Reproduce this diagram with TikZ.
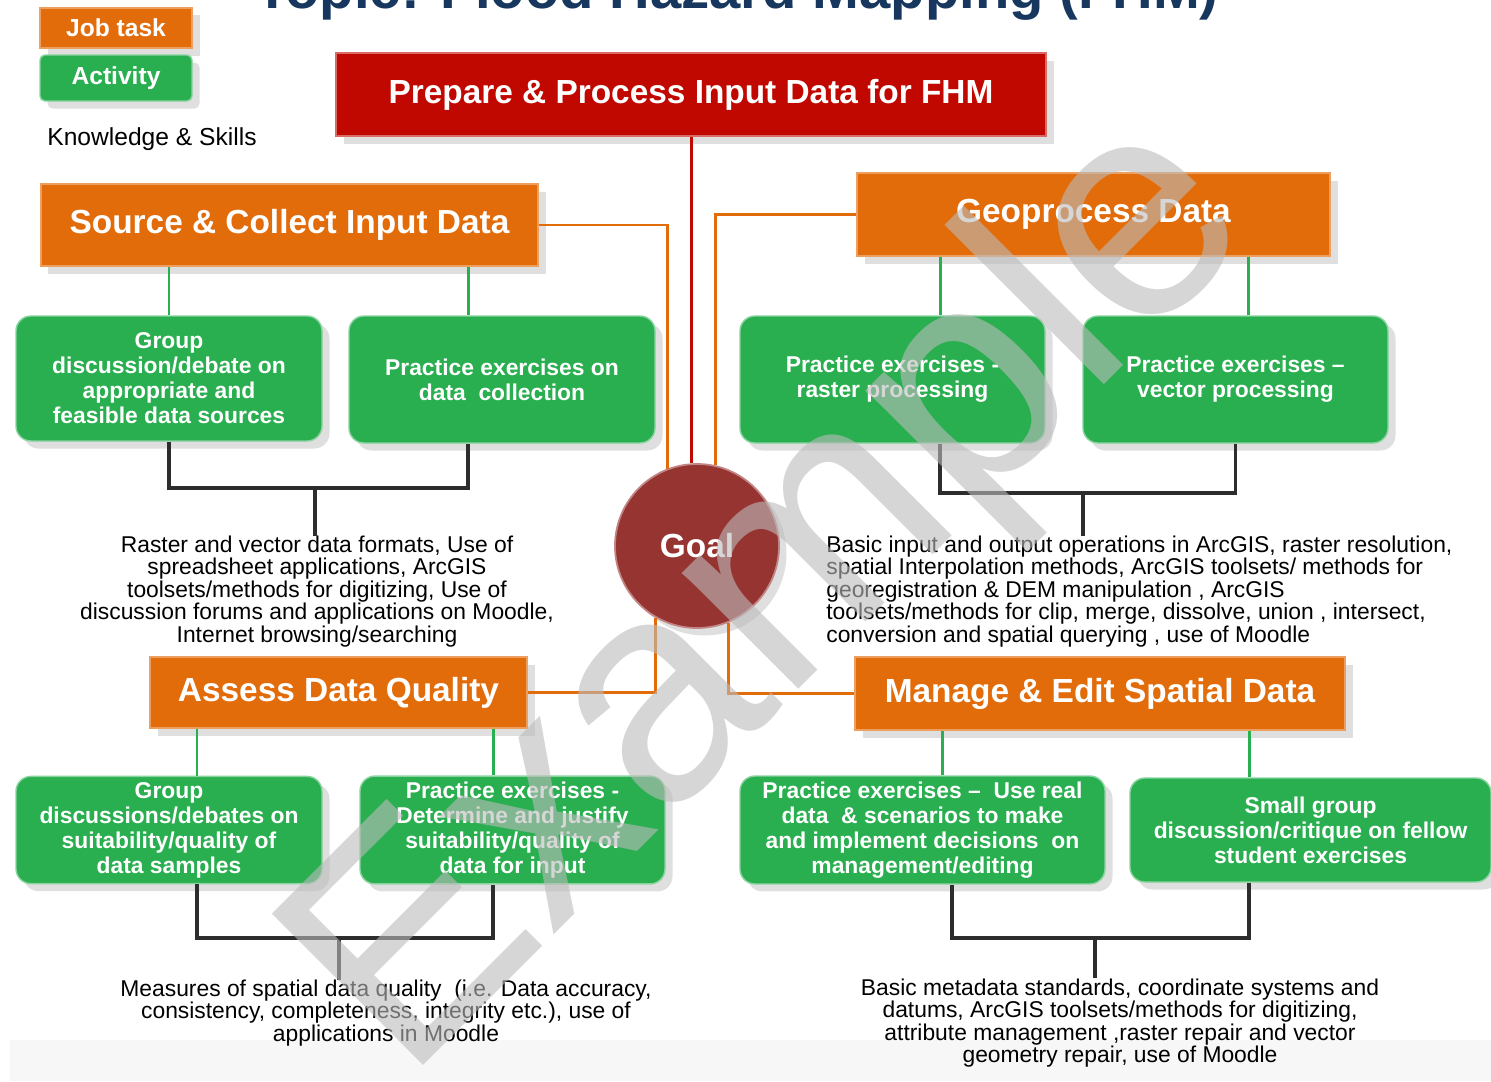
\documentclass[tikz,border=0pt]{standalone}
\usepackage{fontspec}
\setmainfont{Liberation Sans}
\usetikzlibrary{shadows}
\definecolor{taskorange}{RGB}{227,108,10}
\definecolor{actgreen}{RGB}{41,175,80}
\definecolor{prepred}{RGB}{192,8,0}
\definecolor{goalred}{RGB}{150,52,50}
\definecolor{titleblue}{RGB}{23,55,94}
\definecolor{knowgray}{RGB}{45,45,45}
\definecolor{markgray}{RGB}{187,187,187}

\begin{document}
\begin{tikzpicture}[
  jobbox/.style={rectangle, fill=taskorange, draw=taskorange!65!white, line width=0.8pt, text=white, font=\bfseries\fontsize{19}{22}\selectfont, drop shadow={opacity=0.25, shadow xshift=0.15cm, shadow yshift=-0.15cm}},
  actbox/.style={rectangle, rounded corners=0.3cm, fill=actgreen, draw=actgreen!55!white, line width=0.8pt, text=white, align=center, font=\bfseries\fontsize{13}{14.2}\selectfont, drop shadow={opacity=0.25, shadow xshift=0.15cm, shadow yshift=-0.15cm}},
  knowtext/.style={inner sep=0pt, text=black, font=\fontsize{13}{12.8}\selectfont},
  tasklink/.style={draw=taskorange, line width=1.7pt},
  actlink/.style={draw=actgreen, line width=1.7pt},
  knowlink/.style={draw=knowgray, line width=2.2pt}]
  \useasboundingbox (0cm, 0cm) rectangle (29.82cm, -21.62cm);
  \fill[gray!6] (0.2cm, -20.8cm) rectangle (29.82cm, -21.62cm);
  \node [anchor=base, text=titleblue, font=\bfseries\fontsize{32}{36}\selectfont] (title) at (14.74cm, -0.16cm) {Topic: Flood Hazard Mapping (FHM)};
  \node [jobbox, minimum width=3.04cm, minimum height=0.8cm, font=\bfseries\fontsize{14}{16}\selectfont] (job) at (2.32cm, -0.56cm) {Job task};
  \node [actbox, rounded corners=0.1cm, minimum width=3.04cm, minimum height=0.92cm, font=\bfseries\fontsize{14}{16}\selectfont] (act) at (2.32cm, -1.56cm) {Activity};
  \node [font=\fontsize{14}{16}\selectfont] (ks) at (3.04cm, -2.78cm) {Knowledge \& Skills};
  \node [jobbox, fill=prepred, draw=prepred!60!white, minimum width=14.2cm, minimum height=1.66cm] (prep) at (13.82cm, -1.89cm) {Prepare \& Process Input Data for FHM};
  \node [jobbox, minimum width=9.94cm, minimum height=1.64cm] (src) at (5.79cm, -4.5cm) {Source \& Collect Input Data};
  \node [jobbox, minimum width=9.46cm, minimum height=1.66cm] (geo) at (21.87cm, -4.29cm) {Geoprocess Data};
  \node [jobbox, minimum width=7.54cm, minimum height=1.42cm] (qual) at (6.77cm, -13.85cm) {Assess Data Quality};
  \node [jobbox, minimum width=9.8cm, minimum height=1.46cm] (manage) at (22cm, -13.87cm) {Manage \& Edit Spatial Data};
  \node [circle, fill=goalred, draw=goalred!60!white, line width=1pt, minimum size=3.28cm, text=white, font=\bfseries\fontsize{19}{22}\selectfont, drop shadow={opacity=0.25, shadow xshift=0.15cm, shadow yshift=-0.15cm}] (goal) at (13.94cm, -10.92cm) {Goal};
  \node [actbox, minimum width=6.12cm, minimum height=2.5cm] (g1) at (3.38cm, -7.57cm) {Group\\discussion/debate on\\appropriate and\\feasible data sources};
  \node [actbox, minimum width=6.12cm, minimum height=2.54cm] (g2) at (10.04cm, -7.59cm) {Practice exercises on\\data\ \ collection};
  \node [actbox, minimum width=6.1cm, minimum height=2.54cm] (g3) at (17.85cm, -7.59cm) {Practice exercises -\\raster processing};
  \node [actbox, minimum width=6.1cm, minimum height=2.54cm] (g4) at (24.71cm, -7.59cm) {Practice exercises --\\vector processing};
  \node [actbox, minimum width=6.12cm, minimum height=2.08cm] (g5) at (3.38cm, -16.6cm) {Group\\discussions/debates on\\suitability/quality of\\data samples};
  \node [actbox, minimum width=6.1cm, minimum height=2.08cm] (g6) at (10.25cm, -16.6cm) {Practice exercises -\\Determine and justify\\suitability/quality of\\data for input};
  \node [actbox, minimum width=7.3cm, minimum height=2.08cm] (g7) at (18.45cm, -16.6cm) {Practice exercises --\ \ Use real\\data\ \ \& scenarios to make\\and implement decisions\ \ on\\management/editing};
  \node [actbox, minimum width=7.22cm, minimum height=2.08cm] (g8) at (26.21cm, -16.6cm) {Small group\\discussion/critique on fellow\\student exercises};
  \node [knowtext, align=center] (k1) at (6.34cm, -11.83cm) {Raster and vector data formats, Use of\\spreadsheet applications, ArcGIS\\toolsets/methods for digitizing, Use of\\discussion forums and applications on Moodle,\\Internet browsing/searching};
  \node [knowtext, align=left, anchor=west] (k2) at (16.52cm, -11.83cm) {Basic input and output operations in ArcGIS, raster resolution,\\spatial Interpolation methods, ArcGIS toolsets/ methods for\\georegistration \& DEM manipulation , ArcGIS\\toolsets/methods for clip, merge, dissolve, union , intersect,\\conversion and spatial querying , use of Moodle};
  \node [knowtext, align=center] (k3) at (7.72cm, -20.26cm) {Measures of spatial data quality\ \ (i.e. Data accuracy,\\consistency, completeness, integrity etc.), use of\\applications in Moodle};
  \node [knowtext, align=center] (k4) at (22.4cm, -20.46cm) {Basic metadata standards, coordinate systems and\\datums, ArcGIS toolsets/methods for digitizing,\\attribute management ,raster repair and vector\\geometry repair, use of Moodle};
  \coordinate (b1) at (6.3cm, -9.76cm);
  \coordinate (b2) at (21.66cm, -9.86cm);
  \coordinate (b3) at (6.78cm, -18.76cm);
  \coordinate (b4) at (21.9cm, -18.76cm);
  \draw [draw=prepred, line width=1.7pt] (prep.south) -- (prep.south |- goal.north);
  \draw [tasklink] (src.east) -| (goal.111);
  \draw [tasklink] (geo.west) -| (goal.77);
  \draw [tasklink] (qual.east) -| (goal.240);
  \draw [tasklink] (manage.west) -| (goal.292);
  \draw [actlink] (g1.north) -- (g1.north |- src.south);
  \draw [actlink] ([xshift=-0.68cm]g2.north) -- ([xshift=-0.68cm]g2.north |- src.south);
  \draw [actlink] ([xshift=0.95cm]g3.north) -- ([xshift=0.95cm]g3.north |- geo.south);
  \draw [actlink] ([xshift=0.25cm]g4.north) -- ([xshift=0.25cm]g4.north |- geo.south);
  \draw [actlink] ([xshift=0.56cm]g5.north) -- ([xshift=0.56cm]g5.north |- qual.south);
  \draw [actlink] ([xshift=-0.39cm]g6.north) -- ([xshift=-0.39cm]g6.north |- qual.south);
  \draw [actlink] ([xshift=0.39cm]g7.north) -- ([xshift=0.39cm]g7.north |- manage.south);
  \draw [actlink] ([xshift=-1.23cm]g8.north) -- ([xshift=-1.23cm]g8.north |- manage.south);
  \draw [knowlink] (g1.south) |- (b1) -| ([xshift=-0.68cm]g2.south);
  \draw [knowlink] (b1) -- (b1 |- k1.north);
  \draw [knowlink] ([xshift=0.95cm]g3.south) |- (b2) -| (g4.south);
  \draw [knowlink] (b2) -- (b2 |- k2.north);
  \draw [knowlink] ([xshift=0.56cm]g5.south) |- (b3) -| ([xshift=-0.39cm]g6.south);
  \draw [knowlink] (b3) -- (b3 |- k3.north);
  \draw [knowlink] ([xshift=0.59cm]g7.south) |- (b4) -| ([xshift=-1.23cm]g8.south);
  \draw [knowlink] (b4) -- (b4 |- k4.north);
  \node [rotate=45, text=markgray, opacity=0.6, font=\fontsize{177}{177}\selectfont] (mark) at (15.52cm, -11.98cm) {Example};
\end{tikzpicture}
\end{document}
